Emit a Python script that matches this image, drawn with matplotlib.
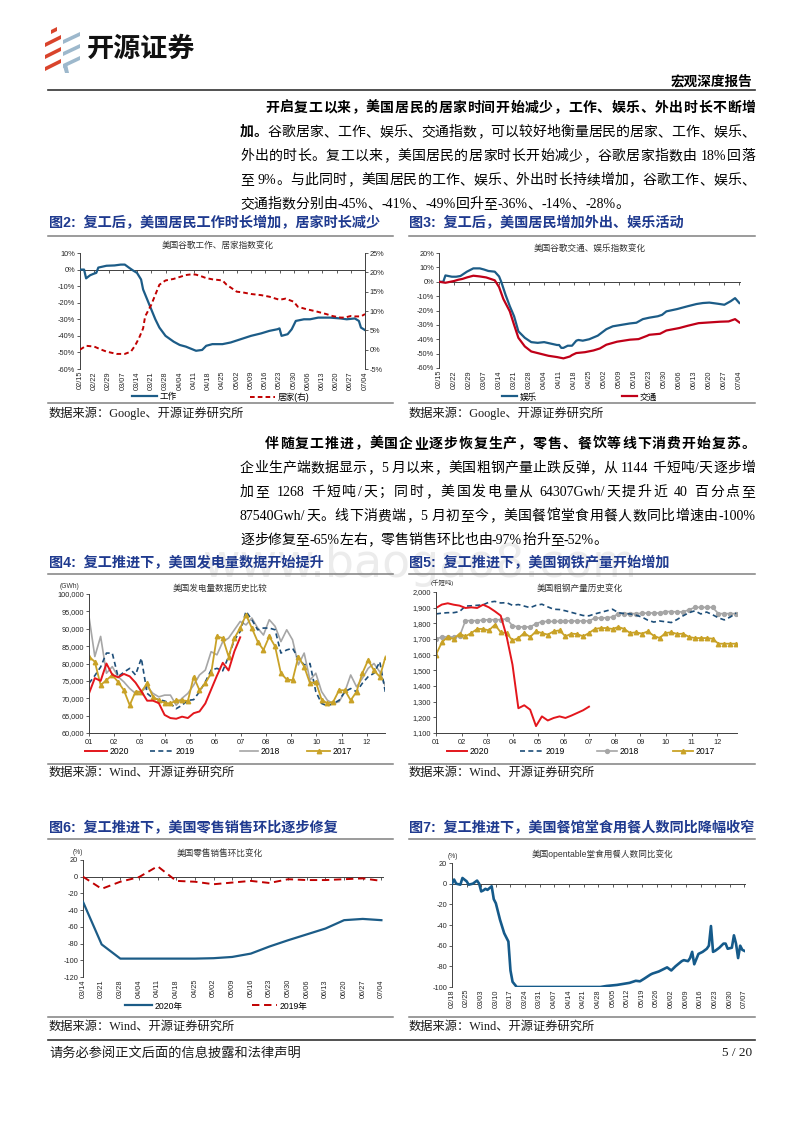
import numpy as np
import pandas as pd
import matplotlib
matplotlib.use('Agg')
import matplotlib.pyplot as plt
from matplotlib.lines import Line2D
from matplotlib.patches import Polygon
from matplotlib.legend import Legend
from matplotlib.ticker import FuncFormatter

plt.rcParams['font.family'] = ['Liberation Sans', 'Noto Sans CJK SC']
plt.rcParams['axes.unicode_minus'] = False

# ---------------- data ----------------
# Fig 2: Google work / residential index (%)
work_dates = ['02/15', '02/17', '02/18', '02/20', '02/22', '02/23', '02/24', '02/28', '03/03', '03/06',
              '03/08', '03/10', '03/12', '03/14', '03/16', '03/17', '03/19', '03/21', '03/23', '03/25',
              '03/28', '04/01', '04/04', '04/07', '04/10', '04/12', '04/15', '04/17', '04/20', '04/25',
              '04/29', '05/04', '05/09', '05/14', '05/18', '05/22', '05/23', '05/24', '05/27', '05/29',
              '05/31', '06/04', '06/07', '06/11', '06/17', '06/22', '06/25', '06/29', '07/01', '07/02', '07/04']
work_vals = [0, 0, -5.3, -3.4, -2.4, -2, 1.2, 2.3, 2.5, 3,
             3, 1.2, -0.5, -2, -6, -12, -18, -24, -30, -35,
             -40, -43.5, -45.5, -46.5, -48, -49, -48.5, -46, -45, -45,
             -44, -42, -40, -38.5, -37, -36, -35.5, -40, -39, -36,
             -31, -30, -30, -29, -29, -29.5, -30, -29.5, -31, -35, -36.5]
home_dates = ['02/15', '02/18', '02/22', '02/25', '02/28', '03/04', '03/08', '03/11', '03/13', '03/15',
              '03/17', '03/18', '03/21', '03/23', '03/25', '03/28', '04/01', '04/04', '04/07', '04/10',
              '04/12', '04/15', '04/17', '04/20', '04/25', '04/27', '05/02', '05/05', '05/09', '05/14',
              '05/18', '05/23', '05/26', '05/30', '06/01', '06/05', '06/10', '06/15', '06/18', '06/22',
              '06/24', '06/27', '06/29', '07/02', '07/04']
home_vals = [0, 1, 0.8, 0.1, -0.5, -1.1, -1.1, -0.5, 1, 3,
             5.5, 8.6, 11.6, 14.2, 16.8, 17.9, 18.3, 18.8, 19.3, 19.5,
             19.4, 18.9, 18.5, 18.2, 17.9, 16.8, 15, 14.8, 14.4, 14.1,
             13.7, 12.9, 13.2, 12.4, 11.1, 10.5, 9.9, 9.2, 8.7, 8.3,
             8.3, 8.7, 8.6, 8.6, 9.2]
g_ticks = ['02/15', '02/22', '02/29', '03/07', '03/14', '03/21', '03/28', '04/04', '04/11', '04/18', '04/25',
           '05/02', '05/09', '05/16', '05/23', '05/30', '06/06', '06/13', '06/20', '06/27', '07/04']

# Fig 3: Google retail & recreation / transit index (%)
ent_dates = ['02/15', '02/17', '02/18', '02/21', '02/23', '02/25', '02/28', '03/02', '03/05', '03/07',
             '03/09', '03/12', '03/14', '03/15', '03/17', '03/19', '03/21', '03/23', '03/26', '03/29',
             '04/01', '04/04', '04/07', '04/10', '04/11', '04/12', '04/13', '04/15', '04/17', '04/19',
             '04/20', '04/22', '04/25', '04/29', '05/03', '05/06', '05/10', '05/14', '05/17', '05/20',
             '05/23', '05/27', '05/29', '05/31', '06/05', '06/10', '06/14', '06/17', '06/20', '06/24',
             '06/27', '06/30', '07/02', '07/04']
ent_vals = [0, 0, 4.4, 3.5, 3.5, 4, 7, 9.3, 9.3, 8.5,
            7.5, 7, 3.7, 0, -9, -17, -24, -34.5, -39, -42,
            -42.5, -42, -43, -44, -44, -46, -46, -44.5, -44.5, -41,
            -40.5, -41, -40, -37.5, -33, -31, -30, -29, -28.5, -26,
            -25, -24, -23, -20.6, -19, -17, -15.5, -14.8, -14.5, -15.3,
            -16, -13.5, -11.4, -14.8]
tr_dates = ['02/15', '02/18', '02/22', '02/24', '02/26', '02/28', '03/02', '03/05', '03/08', '03/12',
            '03/14', '03/16', '03/19', '03/21', '03/23', '03/26', '03/29', '04/02', '04/06', '04/10',
            '04/13', '04/16', '04/17', '04/19', '04/23', '04/27', '04/30', '05/03', '05/08', '05/14',
            '05/18', '05/22', '05/23', '05/28', '05/31', '06/06', '06/10', '06/15', '06/20', '06/25',
            '06/29', '07/02', '07/04']
tr_vals = [0, -0.7, 0.5, 1.4, 2, 3, 4.2, 3.7, 3, 1,
           -3.7, -12, -20.6, -30, -39, -45, -48.5, -50, -51.5, -52.4,
           -53.3, -52, -51, -49.6, -49, -47.8, -46.4, -43.8, -41.7, -40.3,
           -39.9, -37.6, -36.9, -36.2, -33.9, -32.2, -30.6, -28.8, -28.3, -27.8,
           -27.6, -26, -28.3]

# Fig 4: weekly US power generation (GWh)
gen_2020 = [71400, 75800, 75000, 80000, 76800, 76000, 77000, 76300, 74500, 72000,
            69300, 69300, 68600, 65200, 64300, 64100, 64700, 64307, 65700, 66200,
            68500, 72500, 76500, 80200, 78000, 83500, 87540]
gen_2019 = [74300, 76500, 79000, 83000, 83000, 76200, 77500, 78600, 76700, 81500,
            71400, 70000, 69600, 69200, 68500, 67000, 68000, 69400, 69600, 71900,
            74700, 78100, 78600, 77900, 82000, 86800, 89200, 95000, 92600, 89700,
            90200, 90200, 89700, 83000, 83900, 84400, 81500, 79600, 80000, 71900,
            68500, 67800, 68500, 69400, 71900, 72800, 71900, 74300, 76200, 77200,
            80500, 71400]
gen_2018 = [93500, 82000, 87800, 77200, 79100, 76200, 74700, 72800, 71400, 71900,
            73300, 71400, 70400, 70900, 70900, 68000, 70000, 71400, 73800, 76700,
            78100, 83400, 82500, 86300, 87300, 89700, 92100, 91100, 93100, 90200,
            88200, 92600, 90700, 86300, 89700, 86800, 79600, 83000, 75200, 77200,
            71900, 69400, 68500, 69000, 71900, 76700, 73300, 75700, 78600, 80000,
            77600, 73300]
gen_2017 = [82000, 80500, 73800, 75200, 76700, 74700, 72300, 68000, 71900, 71900,
            74300, 70400, 69400, 68700, 68500, 69400, 69400, 69200, 76200, 72300,
            74300, 77200, 87800, 87300, 82000, 87300, 90200, 94000, 90200, 86300,
            83900, 87800, 84900, 77200, 75400, 75200, 82000, 79100, 74300, 74700,
            69600, 68500, 69000, 72300, 72300, 69400, 71900, 77200, 81000, 78000,
            76200, 82000]

# Fig 5: weekly US raw steel production (thousand short tons)
st_2020 = [1898, 1920, 1928, 1919, 1913, 1898, 1902, 1898, 1919, 1902,
           1877, 1849, 1717, 1536, 1258, 1277, 1249, 1144, 1206, 1180,
           1196, 1206, 1196, 1211, 1228, 1245, 1268]
st_2019 = [1860, 1865, 1868, 1868, 1875, 1910, 1912, 1915, 1918, 1935,
           1940, 1930, 1932, 1915, 1920, 1910, 1900, 1915, 1922, 1905,
           1890, 1888, 1880, 1870, 1860, 1850, 1848, 1860, 1870, 1880,
           1890, 1868, 1862, 1860, 1852, 1840, 1820, 1808, 1815, 1810,
           1805, 1825, 1848, 1868, 1880, 1860, 1872, 1855, 1835, 1822,
           1840, 1865]
st_2018 = [1700, 1713, 1713, 1713, 1717, 1817, 1817, 1817, 1821, 1823,
           1823, 1823, 1828, 1785, 1777, 1777, 1777, 1798, 1811, 1812,
           1812, 1813, 1815, 1815, 1815, 1815, 1815, 1834, 1834, 1836,
           1840, 1862, 1862, 1862, 1862, 1864, 1866, 1866, 1866, 1875,
           1875, 1873, 1873, 1887, 1902, 1902, 1902, 1902, 1862, 1862,
           1862, 1862]
st_2017 = [1600, 1679, 1713, 1700, 1734, 1717, 1738, 1764, 1764, 1755,
           1791, 1743, 1738, 1691, 1706, 1738, 1713, 1749, 1738, 1728,
           1749, 1755, 1717, 1734, 1732, 1717, 1738, 1764, 1770, 1770,
           1764, 1777, 1764, 1738, 1743, 1734, 1749, 1721, 1706, 1738,
           1743, 1732, 1734, 1713, 1706, 1706, 1706, 1702, 1670, 1670,
           1670, 1670]
month_labels = ['01', '02', '03', '04', '05', '06', '07', '08', '09', '10', '11', '12']

# Fig 6: US retail sales, week-on-week (%)
rs_dates = ['03/14', '03/21', '03/28', '04/04', '04/11', '04/18', '04/25', '05/02', '05/09',
            '05/16', '05/23', '05/30', '06/06', '06/13', '06/20', '06/27', '07/04']
rs_2020 = [-30, -81, -98, -98, -98, -98, -98, -97.5, -96, -92, -83.5, -76, -69, -62, -52, -50.5, -52]
rs_2019 = [0, -14.5, -6, -0.5, 12.5, -5, -6, -9, -7, -5, -7.5, -3, -4, -4, -3, -2, -5]

# Fig 7: OpenTable seated diners, YoY (%)
ot_dates = ['02/18', '02/19', '02/20', '02/22', '02/23', '02/25', '02/26', '02/28', '03/01', '03/02',
            '03/03', '03/04', '03/05', '03/06', '03/08', '03/09', '03/10', '03/12', '03/14', '03/16',
            '03/17', '03/18', '03/20', '04/29', '05/02', '05/07', '05/10', '05/13', '05/16', '05/18',
            '05/20', '05/23', '05/24', '05/27', '05/29', '05/31', '06/02', '06/04', '06/07', '06/08',
            '06/10', '06/11', '06/12', '06/13', '06/15', '06/17', '06/19', '06/20', '06/21', '06/22',
            '06/23', '06/25', '06/27', '06/28', '06/29', '07/01', '07/02', '07/03', '07/04', '07/05',
            '07/06', '07/07']
ot_vals = [0, 4, 0, -1, 5.5, 2.3, -1, 0, 3, 0,
           -7.5, -6.5, -5, -6, -2.5, -15, -19, -35, -48, -56,
           -84, -95, -100, -100, -99, -98, -97, -96, -94, -94.5,
           -92, -88, -87, -85, -83, -81, -84, -80, -75, -74,
           -75, -72, -66, -78, -68, -66, -63, -60, -41, -66,
           -65, -62, -58, -58, -63, -62, -50, -58, -72, -60,
           -64, -65]
ot_ticks = ['02/18', '02/25', '03/03', '03/10', '03/17', '03/24', '03/31', '04/07', '04/14', '04/21', '04/28',
            '05/05', '05/12', '05/19', '05/26', '06/02', '06/09', '06/16', '06/23', '06/30', '07/07']

# ---------------- helpers ----------------
W, H = 800, 1132
fig = plt.figure(figsize=(8, 11.32), dpi=100)
renderer = fig.canvas.get_renderer()

BLUE = '#1C5C87'
RED = '#C00000'
TBLUE = '#1F3A8F'
LGRAY = '#808080'
SPINE = '#404040'
SERIF = ['Liberation Serif', 'Noto Sans CJK SC']
TL = 5.3


def fx(x):
    return x / W


def fy(y):
    return 1 - y / H


def box(l, t, r, b):
    return [fx(l), fy(b), (r - l) / W, (b - t) / H]


def days(lst):
    base = pd.Timestamp('2020-01-01')
    return np.array([(pd.Timestamp('2020/' + s) - base).days for s in lst], dtype=float)


def weeks(n):
    return 1 + np.arange(n) * 7 / 30.4


def hline(x0, x1, y, color=LGRAY, lw=1.1):
    fig.add_artist(Line2D([fx(x0), fx(x1)], [fy(y), fy(y)], transform=fig.transFigure,
                          color=color, lw=lw))


def text_w(s, size, bold):
    t = fig.text(0, 0, s, fontsize=size, family=SERIF, weight='bold' if bold else 'normal')
    w = t.get_window_extent(renderer).width
    t.remove()
    return w


def tokenize(s):
    toks, buf = [], ''
    for ch in s:
        if ord(ch) < 128 and ch != ' ':
            buf += ch
        else:
            if buf:
                toks.append(buf)
                buf = ''
            toks.append(ch)
    if buf:
        toks.append(buf)
    return toks


def draw_line(segs, x0, y, x1=None, size=10):
    toks = []
    for s, b in segs:
        for tk in tokenize(s):
            toks.append((tk, b))
    sp = text_w('a a', size, False) - text_w('aa', size, False)
    widths = [sp if tk == ' ' else text_w(tk, size, b) for tk, b in toks]
    extra = 0
    if x1 is not None and len(toks) > 1:
        extra = ((x1 - x0) - sum(widths)) / (len(toks) - 1)
    x = x0
    for (tk, b), w in zip(toks, widths):
        if tk != ' ':
            fig.text(fx(x), fy(y + 5), tk, fontsize=size, family=SERIF,
                     weight='bold' if b else 'normal', ha='left', va='baseline', color='black')
        x += w + extra


def fig_title(x, y, s):
    fig.text(fx(x), fy(y), s, fontsize=10.2, weight='bold', color=TBLUE, ha='left', va='center',
             family=['Liberation Sans', 'Noto Sans CJK SC'])


def source(x, y, s):
    fig.text(fx(x), fy(y), s, fontsize=8.8, family=SERIF, ha='left', va='center', color='#1a1a1a')


def leg_entry(ax, handle, label, x_px, y_px, hl_px, fs=6.2):
    fsp = fs * 100 / 72
    leg = Legend(ax, [handle], [label], loc='center left', bbox_to_anchor=(fx(x_px), fy(y_px)),
                 bbox_transform=fig.transFigure, frameon=False, fontsize=fs,
                 handlelength=hl_px / fsp, handletextpad=0.35, borderpad=0, borderaxespad=0,
                 numpoints=1)
    ax.add_artist(leg)


def base_style(ax):
    for s in ['top', 'right']:
        ax.spines[s].set_visible(False)
    ax.spines['left'].set_color(SPINE)
    ax.spines['left'].set_linewidth(0.7)
    ax.tick_params(axis='y', labelsize=TL, length=2, width=0.6, color=SPINE, pad=1.5,
                   labelcolor='#262626')
    ax.patch.set_alpha(0)


def date_xaxis(ax, ticks):
    tk = days(ticks)
    ax.spines['bottom'].set_position(('data', 0))
    ax.spines['bottom'].set_color(SPINE)
    ax.spines['bottom'].set_linewidth(0.7)
    ax.set_xticks(tk)
    ax.tick_params(axis='x', labelbottom=False, length=2, width=0.6, color=SPINE, direction='out')
    sec = ax.secondary_xaxis('bottom')
    sec.set_ticks(tk, labels=ticks)
    sec.tick_params(axis='x', length=0, labelsize=TL, labelrotation=90, pad=1.5, labelcolor='#262626')
    sec.spines['bottom'].set_visible(False)


def month_xaxis(ax):
    ax.set_xlim(1, 12.72)
    ax.set_xticks(range(1, 13), labels=month_labels)
    ax.spines['bottom'].set_color(SPINE)
    ax.spines['bottom'].set_linewidth(0.7)
    ax.tick_params(axis='x', labelsize=TL, length=2, width=0.6, color=SPINE, pad=2,
                   labelcolor='#262626')


def chart_title(x, y, s):
    fig.text(fx(x), fy(y), s, fontsize=6.2, ha='center', va='center', color='#333333')


# ---------------- page decorations ----------------
# watermark
fig.text(fx(420), fy(577), 'www.baogao8.com', fontsize=33, color='#ececec', ha='center',
         va='baseline', family='DejaVu Sans', zorder=0)

# logo
red_c, blue_c = '#D9442C', '#9DB8CC'
for yy in [40, 52, 64]:
    fig.add_artist(Polygon([[fx(45), fy(yy + 3)], [fx(61), fy(yy - 5)], [fx(61), fy(yy - 1)],
                            [fx(45), fy(yy + 7)]], closed=True, transform=fig.transFigure,
                           color=red_c, lw=0))
fig.add_artist(Polygon([[fx(51), fy(30)], [fx(57), fy(27)], [fx(57), fy(31)], [fx(51), fy(34)]],
                       closed=True, transform=fig.transFigure, color=red_c, lw=0))
for yy in [36, 48, 60]:
    fig.add_artist(Polygon([[fx(63), fy(yy + 4)], [fx(80), fy(yy - 4)], [fx(80), fy(yy)],
                            [fx(63), fy(yy + 8)]], closed=True, transform=fig.transFigure,
                           color=blue_c, lw=0))
fig.add_artist(Polygon([[fx(63), fy(66)], [fx(67), fy(64)], [fx(69), fy(73)], [fx(65), fy(73)]],
                       closed=True, transform=fig.transFigure, color=blue_c, lw=0))
fig.text(fx(87), fy(49), '开源证券', fontsize=19.5, weight='bold', color='#111111', ha='left',
         va='center', family=['Noto Sans CJK SC'])
fig.text(fx(752), fy(82), '宏观深度报告', fontsize=9.8, weight='bold', color='black', ha='right',
         va='center', family=SERIF)
hline(48, 755, 90, color='#333333', lw=1.2)

# paragraph 1
draw_line([('开启复工以来，美国居民的居家时间开始减少，工作、娱乐、外出时长不断增', True)], 265, 107, 755)
draw_line([('加。', True), ('谷歌居家、工作、娱乐、交通指数，可以较好地衡量居民的居家、工作、娱乐、', False)], 240, 131, 755)
draw_line([('外出的时长。复工以来，美国居民的居家时长开始减少，谷歌居家指数由 18%回落', False)], 240, 155, 755)
draw_line([('至 9%。与此同时，美国居民的工作、娱乐、外出时长持续增加，谷歌工作、娱乐、', False)], 240, 179, 755)
draw_line([('交通指数分别由-45%、-41%、-49%回升至-36%、-14%、-28%。', False)], 240, 203)

# paragraph 2
draw_line([('伴随复工推进，美国企业逐步恢复生产，零售、餐饮等线下消费开始复苏。', True)], 265, 443, 755)
draw_line([('企业生产端数据显示，5 月以来，美国粗钢产量止跌反弹，从 1144 千短吨/天逐步增', False)], 240, 467, 755)
draw_line([('加至 1268 千短吨/天；同时，美国发电量从 64307Gwh/天提升近 40 百分点至', False)], 240, 491, 755)
draw_line([('87540Gwh/天。线下消费端，5 月初至今，美国餐馆堂食用餐人数同比增速由-100%', False)], 240, 515, 755)
draw_line([('逐步修复至-65%左右，零售销售环比也由-97%抬升至-52%。', False)], 240, 539)

# figure titles, rules, sources
fig_title(49, 223, '图2:  复工后，美国居民工作时长增加，居家时长减少')
fig_title(409, 223, '图3:  复工后，美国居民增加外出、娱乐活动')
fig_title(49, 563, '图4:  复工推进下，美国发电量数据开始提升')
fig_title(409, 563, '图5:  复工推进下，美国钢铁产量开始增加')
fig_title(49, 828, '图6:  复工推进下，美国零售销售环比逐步修复')
fig_title(409, 828, '图7:  复工推进下，美国餐馆堂食用餐人数同比降幅收窄')
for y in [236, 403, 574, 764, 839, 1017]:
    hline(48, 393, y)
    hline(409, 755, y)
source(49, 413, '数据来源：Google、开源证券研究所')
source(409, 413, '数据来源：Google、开源证券研究所')
source(49, 773, '数据来源：Wind、开源证券研究所')
source(409, 773, '数据来源：Wind、开源证券研究所')
source(49, 1027, '数据来源：Wind、开源证券研究所')
source(409, 1027, '数据来源：Wind、开源证券研究所')

# footer
hline(48, 755, 1040, color='#333333', lw=1.2)
fig.text(fx(49), fy(1053), '请务必参阅正文后面的信息披露和法律声明', fontsize=9.5, family=SERIF,
         ha='left', va='center', color='#1a1a1a')
fig.text(fx(752), fy(1053), '5 / 20', fontsize=9.5, family=SERIF, ha='right', va='center',
         color='#1a1a1a')

pct = FuncFormatter(lambda v, p: f'{v:.0f}%')
comma = FuncFormatter(lambda v, p: f'{v:,.0f}')

# ---------------- Fig 2 ----------------
ax2 = fig.add_axes(box(80, 253, 365, 369))
base_style(ax2)
ax2.plot(days(work_dates), work_vals, color=BLUE, lw=1.6, zorder=3)
ax2.set_xlim(days(['02/15'])[0], days(['07/04'])[0])
ax2.set_ylim(-60, 10)
ax2.set_yticks(range(-60, 11, 10))
ax2.yaxis.set_major_formatter(pct)
date_xaxis(ax2, g_ticks)
ax2r = ax2.twinx()
ax2r.plot(days(home_dates), home_vals, color=RED, lw=1.4, ls=(0, (2.4, 1.6)))
ax2r.set_ylim(-5, 25)
ax2r.set_yticks(range(-5, 26, 5))
ax2r.yaxis.set_major_formatter(pct)
for s in ['top', 'bottom', 'left']:
    ax2r.spines[s].set_visible(False)
ax2r.spines['right'].set_color(SPINE)
ax2r.spines['right'].set_linewidth(0.7)
ax2r.tick_params(axis='y', labelsize=TL, length=2, width=0.6, color=SPINE, pad=1.5,
                 labelcolor='#262626')
chart_title(218, 245, '美国谷歌工作、居家指数变化')
leg_entry(ax2, Line2D([], [], color=BLUE, lw=1.6), '工作', 132, 397, 25)
leg_entry(ax2, Line2D([], [], color=RED, lw=1.4, ls=(0, (2.4, 1.6))), '居家(右)', 250, 397, 25)

# ---------------- Fig 3 ----------------
ax3 = fig.add_axes(box(439, 253, 740, 368))
base_style(ax3)
ax3.plot(days(ent_dates), ent_vals, color=BLUE, lw=1.6, zorder=3)
ax3.plot(days(tr_dates), tr_vals, color='#C00018', lw=1.6, zorder=3)
ax3.set_xlim(days(['02/15'])[0], days(['07/04'])[0] + 0.3)
ax3.set_ylim(-60, 20)
ax3.set_yticks(range(-60, 21, 10))
ax3.yaxis.set_major_formatter(pct)
date_xaxis(ax3, g_ticks)
chart_title(590, 248, '美国谷歌交通、娱乐指数变化')
leg_entry(ax3, Line2D([], [], color=BLUE, lw=1.6), '娱乐', 502, 397, 15)
leg_entry(ax3, Line2D([], [], color='#C00018', lw=1.6), '交通', 622, 397, 15)

# ---------------- Fig 4 ----------------
C20, C19, C18, C17 = '#E3161C', '#1D4E79', '#A6A6A6', '#C9A227'
ax4 = fig.add_axes(box(89, 594, 385, 733))
base_style(ax4)
ax4.plot(weeks(len(gen_2018)), gen_2018, color=C18, lw=1.2)
ax4.plot(weeks(len(gen_2019)), gen_2019, color=C19, lw=1.2, ls=(0, (3, 2)))
ax4.plot(weeks(len(gen_2017)), gen_2017, color=C17, lw=1.3, marker='^', ms=3.2)
ax4.plot(weeks(len(gen_2020)), gen_2020, color=C20, lw=1.4)
ax4.set_ylim(60000, 100000)
ax4.set_yticks(range(60000, 100001, 5000))
ax4.yaxis.set_major_formatter(comma)
month_xaxis(ax4)
chart_title(220, 588, '美国发电量数据历史比较')
fig.text(fx(70), fy(586), '(GWh)', fontsize=4.8, ha='center', va='center', color='#333333')
leg_entry(ax4, Line2D([], [], color=C20, lw=1.4), '2020', 85, 752, 22)
leg_entry(ax4, Line2D([], [], color=C19, lw=1.2, ls=(0, (3, 2))), '2019', 150, 752, 23)
leg_entry(ax4, Line2D([], [], color=C18, lw=1.2), '2018', 240, 752, 18)
leg_entry(ax4, Line2D([], [], color=C17, lw=1.3, marker='^', ms=3.2), '2017', 307, 752, 23)

# ---------------- Fig 5 ----------------
ax5 = fig.add_axes(box(436, 592, 737, 733))
base_style(ax5)
ax5.plot(weeks(len(st_2018)), st_2018, color=C18, lw=1.2, marker='o', ms=2.8)
ax5.plot(weeks(len(st_2019)), st_2019, color=C19, lw=1.2, ls=(0, (3, 2)))
ax5.plot(weeks(len(st_2017)), st_2017, color=C17, lw=1.3, marker='^', ms=3.2)
ax5.plot(weeks(len(st_2020)), st_2020, color=C20, lw=1.4)
ax5.set_ylim(1100, 2000)
ax5.set_yticks(range(1100, 2001, 100))
ax5.yaxis.set_major_formatter(comma)
month_xaxis(ax5)
ax5.set_xlim(1, 12.78)
chart_title(580, 588, '美国粗钢产量历史变化')
fig.text(fx(442), fy(583), '(千短吨)', fontsize=4.6, ha='center', va='center', color='#333333')
leg_entry(ax5, Line2D([], [], color=C20, lw=1.4), '2020', 447, 752, 20)
leg_entry(ax5, Line2D([], [], color=C19, lw=1.2, ls=(0, (3, 2))), '2019', 520, 752, 23)
leg_entry(ax5, Line2D([], [], color=C18, lw=1.2, marker='o', ms=2.8), '2018', 597, 752, 20)
leg_entry(ax5, Line2D([], [], color=C17, lw=1.3, marker='^', ms=3.2), '2017', 673, 752, 20)

# ---------------- Fig 6 ----------------
ax6 = fig.add_axes(box(83, 860, 383, 977))
base_style(ax6)
ax6.plot(days(rs_dates), rs_2020, color=BLUE, lw=1.6, zorder=3)
ax6.plot(days(rs_dates), rs_2019, color=RED, lw=1.4, ls=(0, (3.8, 2.4)), zorder=3)
ax6.set_xlim(days(['03/14'])[0], days(['07/04'])[0] + 0.6)
ax6.set_ylim(-120, 20)
ax6.set_yticks(range(-120, 21, 20))
date_xaxis(ax6, rs_dates)
chart_title(220, 853, '美国零售销售环比变化')
fig.text(fx(78), fy(852), '(%)', fontsize=4.8, ha='center', va='center', color='#333333')
leg_entry(ax6, Line2D([], [], color=BLUE, lw=1.6), '2020年', 125, 1006, 27)
leg_entry(ax6, Line2D([], [], color=RED, lw=1.4, ls=(0, (3.8, 2.4))), '2019年', 252, 1006, 25)

# ---------------- Fig 7 ----------------
ax7 = fig.add_axes(box(452, 863, 745, 987))
base_style(ax7)
ax7.plot(days(ot_dates), ot_vals, color='#155A8A', lw=1.9, zorder=3)
ax7.set_xlim(days(['02/18'])[0], days(['07/07'])[0] + 0.3)
ax7.set_ylim(-100, 20)
ax7.set_yticks(range(-100, 21, 20))
date_xaxis(ax7, ot_ticks)
chart_title(603, 854, '美国opentable堂食用餐人数同比变化')
fig.text(fx(453), fy(857), '(%)', fontsize=4.8, ha='center', va='center', color='#333333')

fig.savefig('out.png', dpi=100)
